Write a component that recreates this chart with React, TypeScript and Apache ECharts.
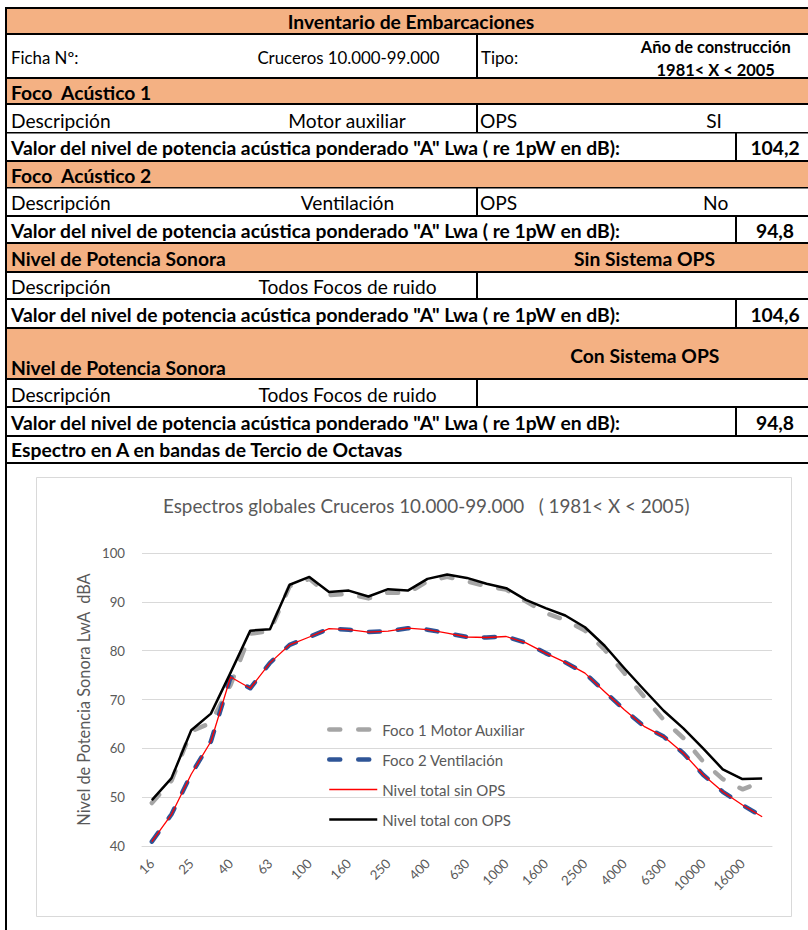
import React, { useEffect, useRef } from 'react';
import * as echarts from 'echarts';

// ---------- chart data ----------
const bands = ['16', '20', '25', '31,5', '40', '50', '63', '80', '100', '125', '160', '200', '250', '315', '400', '500', '630', '800', '1000', '1250', '1600', '2000', '2500', '3150', '4000', '5000', '6300', '8000', '10000', '12500', '16000', '20000'];
const foco1 = [48.8, 53.4, 63.5, 65.2, 73.0, 83.5, 84.0, 93.2, 94.7, 91.4, 91.6, 90.7, 91.9, 91.8, 94.2, 95.1, 94.2, 93.2, 92.5, 90.1, 87.7, 86.3, 84.1, 80.2, 75.4, 70.6, 65.8, 62.1, 57.3, 53.7, 51.6, 53.2];
const foco2 = [40.9, 46.5, 54.7, 61.4, 74.6, 72.3, 77.5, 81.2, 82.8, 84.5, 84.3, 83.8, 84.0, 84.6, 84.3, 83.6, 82.8, 82.7, 82.9, 81.6, 79.5, 77.6, 75.4, 71.6, 67.9, 64.5, 62.4, 59.0, 54.6, 51.1, 48.4, 46.0];
const totalSinOps = [40.9, 46.5, 54.7, 61.4, 74.6, 72.3, 77.5, 81.2, 82.8, 84.5, 84.3, 83.8, 84.0, 84.6, 84.3, 83.6, 82.8, 82.7, 82.9, 81.6, 79.5, 77.6, 75.4, 71.6, 67.9, 64.5, 62.4, 59.0, 54.6, 51.1, 48.4, 46.0];
const totalConOps = [49.4, 53.9, 63.7, 67.1, 75.5, 84.1, 84.4, 93.5, 95.1, 92.0, 92.3, 91.1, 92.6, 92.3, 94.7, 95.6, 94.9, 93.7, 92.8, 90.4, 88.7, 87.2, 84.8, 81.0, 76.4, 72.0, 67.7, 64.1, 60.0, 55.7, 53.7, 53.8];
const seriesNames = ['Foco 1 Motor Auxiliar', 'Foco 2 Ventilación', 'Nivel total sin OPS', 'Nivel total con OPS'];
const yMin = 40;
const yMax = 100;
const yStep = 10;

const chartTitle = 'Espectros globales Cruceros 10.000-99.000   ( 1981< X < 2005)';
const yName = 'Nivel de Potencia Sonora LwA  dBA';

// ---------- table text ----------
const VALOR = 'Valor del nivel de potencia acústica ponderado "A" Lwa ( re 1pW en dB):';
type Cell = { t: string; x: number; y: number; s: 'r' | 'f' | 'b' | 's'; a?: 'left' | 'center' };
const cells: Cell[] = [
  { t: 'Inventario de Embarcaciones', x: 411, y: 21.5, s: 'b', a: 'center' },
  { t: 'Ficha Nº:', x: 11, y: 57.5, s: 'f' },
  { t: 'Cruceros 10.000-99.000', x: 348.5, y: 57.5, s: 'f', a: 'center' },
  { t: 'Tipo:', x: 481, y: 57.5, s: 'f' },
  { t: 'Año de construcción', x: 715.7, y: 46.5, s: 's', a: 'center' },
  { t: '1981< X < 2005', x: 715.7, y: 69.5, s: 's', a: 'center' },
  { t: 'Foco  Acústico 1', x: 11, y: 92.5, s: 'b' },
  { t: 'Descripción', x: 11, y: 120, s: 'r' },
  { t: 'Motor auxiliar', x: 347, y: 120, s: 'r', a: 'center' },
  { t: 'OPS', x: 480, y: 120, s: 'r' },
  { t: 'SI', x: 714, y: 120, s: 'r', a: 'center' },
  { t: VALOR, x: 11, y: 147.5, s: 'b' },
  { t: '104,2', x: 775, y: 147.5, s: 'b', a: 'center' },
  { t: 'Foco  Acústico 2', x: 11, y: 175.5, s: 'b' },
  { t: 'Descripción', x: 11, y: 202.5, s: 'r' },
  { t: 'Ventilación', x: 347.5, y: 202.5, s: 'r', a: 'center' },
  { t: 'OPS', x: 480, y: 202.5, s: 'r' },
  { t: 'No', x: 715.7, y: 202.5, s: 'r', a: 'center' },
  { t: VALOR, x: 11, y: 230, s: 'b' },
  { t: '94,8', x: 775, y: 230, s: 'b', a: 'center' },
  { t: 'Nivel de Potencia Sonora', x: 11, y: 258.5, s: 'b' },
  { t: 'Sin Sistema OPS', x: 644.5, y: 258.5, s: 'b', a: 'center' },
  { t: 'Descripción', x: 11, y: 286.5, s: 'r' },
  { t: 'Todos Focos de ruido', x: 347.5, y: 286.5, s: 'r', a: 'center' },
  { t: VALOR, x: 11, y: 314, s: 'b' },
  { t: '104,6', x: 775, y: 314, s: 'b', a: 'center' },
  { t: 'Con Sistema OPS', x: 644.8, y: 355, s: 'b', a: 'center' },
  { t: 'Nivel de Potencia Sonora', x: 11, y: 367.5, s: 'b' },
  { t: 'Descripción', x: 11, y: 394, s: 'r' },
  { t: 'Todos Focos de ruido', x: 347.5, y: 394, s: 'r', a: 'center' },
  { t: VALOR, x: 11, y: 422, s: 'b' },
  { t: '94,8', x: 775, y: 422, s: 'b', a: 'center' },
  { t: 'Espectro en A en bandas de Tercio de Octavas', x: 11, y: 449.5, s: 'b' },
];

const ORANGE = '#F4B183';
const orangeRows: [number, number][] = [[8, 34], [78, 104], [161, 188], [243, 272], [328, 379]];
const hLines: [number, number][] = [[7, 2], [33, 2], [77, 2], [103, 2], [132, 1.5], [160, 2], [187, 1.5], [215, 2], [242, 2], [271, 2], [298, 2], [327, 2], [378, 2], [406, 2], [435, 2], [462, 2]];
const vLines: [number, number, number][] = [
  [476, 35, 77], [476, 105, 132], [476, 188, 215], [476, 273, 298], [476, 380, 406],
  [735, 133, 160], [735, 217, 242], [735, 300, 327], [735, 408, 435],
];

const FONT = 'Lato';
function fitSize(text: string, weight: string, target: number): number {
  const ctx = document.createElement('canvas').getContext('2d');
  if (!ctx) return 14;
  ctx.font = `${weight} 20px ${FONT}`;
  const w = ctx.measureText(text).width;
  return w > 0 ? (20 * target) / w : 14;
}

export default function App() {
  const ref = useRef<HTMLDivElement>(null);
  useEffect(() => {
    if (!ref.current) return;
    const chart = echarts.init(ref.current, undefined, { renderer: 'svg', width: 808, height: 930 });

    const sizes: Record<string, number> = {
      r: (fitSize('Descripción', 'normal', 98) + fitSize('Todos Focos de ruido', 'normal', 178) + fitSize('Motor auxiliar', 'normal', 120)) / 3,
      f: (fitSize('Cruceros 10.000-99.000', 'normal', 181) + fitSize('Ficha Nº:', 'normal', 68)) / 2,
      b: fitSize(VALOR, 'bold', 610),
      s: fitSize('Año de construcción', 'bold', 150),
    };
    const titleSize = fitSize(chartTitle, 'normal', 527);
    const legendSize = fitSize('Foco 1 Motor Auxiliar', 'normal', 143);
    const nameSize = fitSize(yName, 'normal', 253);
    const tickSize = fitSize('100', 'normal', 23);

    const elements: any[] = [];
    orangeRows.forEach(([y0, y1]) => elements.push({ type: 'rect', silent: true, shape: { x: 6, y: y0, width: 802, height: y1 - y0 }, style: { fill: ORANGE } }));
    hLines.forEach(([y, h]) => elements.push({ type: 'rect', silent: true, shape: { x: 5, y, width: 803, height: h }, style: { fill: '#000' } }));
    vLines.forEach(([x, y0, y1]) => elements.push({ type: 'rect', silent: true, shape: { x, y: y0, width: 2, height: y1 - y0 }, style: { fill: '#000' } }));
    elements.push({ type: 'rect', silent: true, shape: { x: 5, y: 7, width: 2, height: 923 }, style: { fill: '#000' } });
    elements.push({ type: 'rect', silent: true, shape: { x: 36.5, y: 477.5, width: 755, height: 439 }, style: { fill: 'none', stroke: '#D9D9D9', lineWidth: 1 } });
    cells.forEach((c) => {
      const weight = c.s === 'r' || c.s === 'f' ? 'normal' : 'bold';
      elements.push({
        type: 'text', silent: true, x: c.x, y: c.y,
        style: { text: c.t, fontFamily: FONT, fontSize: sizes[c.s], fontWeight: weight, fill: '#000', align: c.a || 'left', verticalAlign: 'middle' },
      });
    });

    const dash = [11, 18];
    const option: any = {
      animation: false,
      backgroundColor: '#ffffff',
      title: {
        text: chartTitle, left: 163, top: 496, padding: 0,
        textStyle: { fontFamily: FONT, fontSize: titleSize, fontWeight: 'normal', color: '#595959' },
      },
      legend: {
        orient: 'vertical', left: 327, top: 722, padding: 0, itemWidth: 48, itemHeight: 14, itemGap: 15,
        data: seriesNames,
        itemStyle: { opacity: 0, borderWidth: 0 },
        lineStyle: { width: 'inherit', type: 'inherit', cap: 'inherit' },
        textStyle: { fontFamily: FONT, fontSize: legendSize, color: '#595959', lineHeight: 14 },
      },
      grid: { left: 142, right: 36, top: 553, bottom: 84, containLabel: false },
      xAxis: {
        type: 'category', data: bands, boundaryGap: true,
        axisLine: { show: true, lineStyle: { color: '#D9D9D9', width: 1 } },
        axisTick: { show: false },
        axisLabel: { interval: 1, rotate: 45, margin: 15, fontFamily: FONT, fontSize: tickSize, color: '#595959' },
        splitLine: { show: false },
      },
      yAxis: {
        type: 'value', min: yMin, max: yMax, interval: yStep,
        name: yName, nameLocation: 'middle', nameRotate: 90, nameGap: 45,
        nameTextStyle: { fontFamily: FONT, fontSize: nameSize, color: '#595959' },
        axisLine: { show: false }, axisTick: { show: false },
        axisLabel: { margin: 17, fontFamily: FONT, fontSize: tickSize, color: '#595959' },
        splitLine: { lineStyle: { color: '#D9D9D9', width: 1 } },
      },
      graphic: { elements },
      series: [
        { name: seriesNames[0], type: 'line', data: foco1, symbol: 'none', itemStyle: { color: '#A5A5A5' }, lineStyle: { color: '#A5A5A5', width: 4.5, type: dash, cap: 'round', join: 'round' } },
        { name: seriesNames[1], type: 'line', data: foco2, symbol: 'none', itemStyle: { color: '#2F5597' }, lineStyle: { color: '#2F5597', width: 4.5, type: dash, cap: 'round', join: 'round' } },
        { name: seriesNames[2], type: 'line', data: totalSinOps, symbol: 'none', itemStyle: { color: '#FF0000' }, lineStyle: { color: '#FF0000', width: 1.3, join: 'round' } },
        { name: seriesNames[3], type: 'line', data: totalConOps, symbol: 'none', itemStyle: { color: '#000000' }, lineStyle: { color: '#000000', width: 2.5, join: 'round' } },
      ],
    };
    chart.setOption(option);
    return () => chart.dispose();
  }, []);
  return <div ref={ref} style={{ position: 'absolute', left: 0, top: 0, width: 808, height: 930 }} />;
}
